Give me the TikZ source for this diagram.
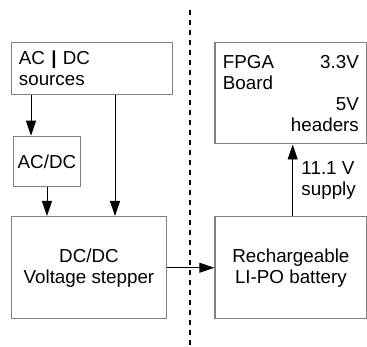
\documentclass[tikz,border=0pt]{standalone}
\usepackage{fontspec}
\setmainfont{Liberation Sans}
\usepackage{xcolor}
\usepackage{tikz}
\usetikzlibrary{arrows.meta, positioning}

\definecolor{boxgray}{HTML}{808080}

\tikzset{
	blk/.style={draw=boxgray, line width=1.2pt, rectangle, anchor=north west, inner sep=0pt, align=center},
	arr/.style={draw=black, line width=0.9pt, -{Triangle[length=15pt, width=10pt]}},
	sep/.style={draw=black, line width=2pt, dash pattern=on 5pt off 5pt},
}

\begin{document}
\begin{tikzpicture}[x=1pt, y=-1pt, font=\fontsize{18.8}{21}\selectfont]
	\useasboundingbox (0, 0) rectangle (367, 347);
	% Boxes:
	\node[blk, inner xsep=7.3pt, text width=146.4pt, minimum height=52.3pt, align=left](src) at (11, 41.7){AC {\bfseries|} DC\\sources};
	\node[blk, minimum width=67.3pt, minimum height=50pt](acdc) at (12.7, 135.7){AC/DC};
	\node[blk, minimum width=154.7pt, minimum height=102.3pt](dcdc) at (11, 216){DC/DC\\Voltage stepper};
	\node[blk, inner xsep=8pt, text width=136pt, minimum height=101.6pt, align=left](fpga) at (214.3, 41.7){FPGA\hskip0pt plus1filll 3.3V\\Board\\\hskip0pt plus1filll 5V\\\hskip0pt plus1filll headers};
	\node[blk, minimum width=152pt, minimum height=102.3pt](bat) at (214.3, 216){Rechargeable\\LI-PO battery};
	% Separator:
	\coordinate (septop) at (190, 10);
	\coordinate (sepbot) at (190, 347);
	\draw[sep] (septop) -- (sepbot);
	% Arrows:
	\draw[arr] ([xshift=20pt]src.south west) -- ([xshift=20pt]src.south west |- acdc.north);
	\draw[arr] ([xshift=104pt]src.south west) -- ([xshift=104pt]src.south west |- dcdc.north);
	\draw[arr] (acdc.south) -- (acdc.south |- dcdc.north);
	\draw[arr] (dcdc.east) -- (bat.west);
	\draw[arr] ([xshift=78.4pt]bat.north west) -- ([xshift=78.4pt]bat.north west |- fpga.south) node[pos=0.5, right=5pt, align=left](sup){11.1 V\\supply};
\end{tikzpicture}
\end{document}
